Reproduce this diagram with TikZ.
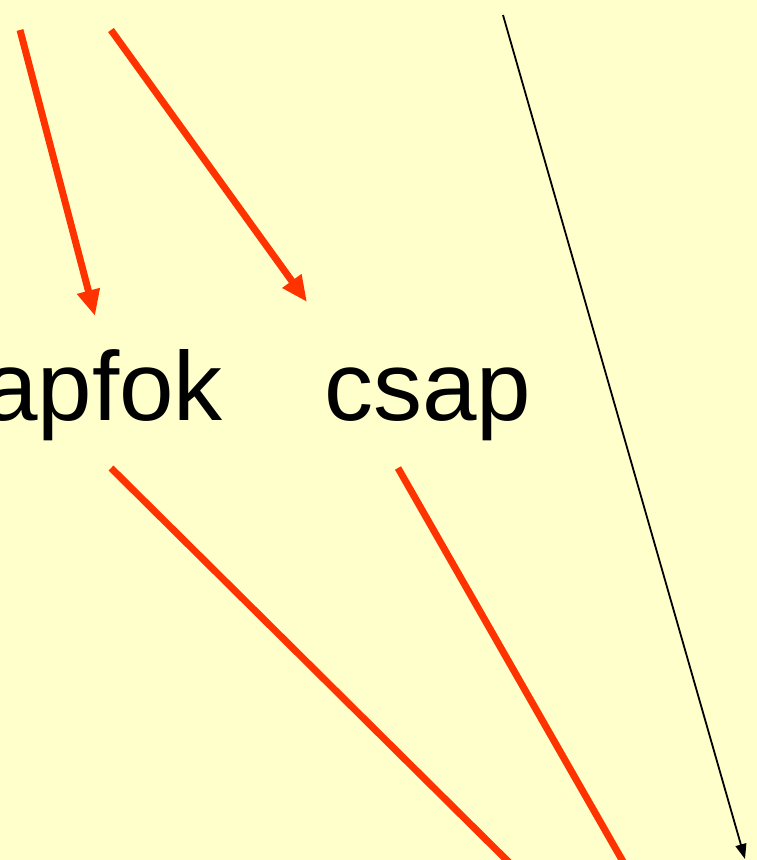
\documentclass[tikz,border=0pt]{standalone}
\usepackage{fontspec}
\setmainfont{Liberation Sans}
\usetikzlibrary{arrows.meta}
\definecolor{bgyellow}{HTML}{FFFFCC}
\definecolor{redline}{HTML}{FF3300}
\begin{document}
\begin{tikzpicture}[x=1pt,y=-1pt,
  redarrow/.style={draw=redline, line width=7pt, -{Triangle[length=26pt,width=22pt]}},
  redplain/.style={draw=redline, line width=7pt},
  blackarrow/.style={draw=black, line width=1.8pt, -{Triangle[length=15pt,width=11pt]}},
  word/.style={inner sep=0pt, font=\fontsize{98}{100}\selectfont}]
\useasboundingbox (0,0) rectangle (757,860);
\fill[bgyellow] (0,0) rectangle (757,860);
\clip (0,0) rectangle (757,860);
\node[word, anchor=base east] (apfok) at (223,420) {apfok};
\node[word, anchor=base west] (csap) at (324,420) {csap};
\coordinate (s1) at (20,30);
\coordinate (t1) at (95,316);
\coordinate (s2) at (111,30);
\coordinate (t2) at (307,302);
\coordinate (s3) at (111,468);
\coordinate (e3) at (547,900);
\coordinate (s4) at (398,468);
\coordinate (e4) at (645,900);
\coordinate (s5) at (503,15);
\coordinate (t5) at (745,859);
\draw[redarrow] (s1) -- (t1);
\draw[redarrow] (s2) -- (t2);
\draw[redplain] (s3) -- (e3);
\draw[redplain] (s4) -- (e4);
\draw[blackarrow] (s5) -- (t5);
\end{tikzpicture}
\end{document}
